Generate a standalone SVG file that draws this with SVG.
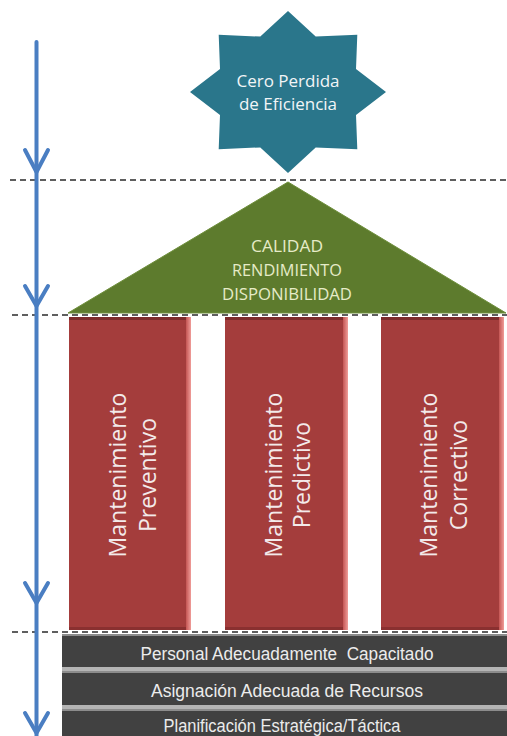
<svg xmlns="http://www.w3.org/2000/svg" width="507" height="736" viewBox="0 0 507 736">
  <style>
    .star { fill: #2a768b; }
    .startxt { font-family: "Open Sans", "DejaVu Sans", sans-serif; font-size: 17px; fill: #f2f5f7; text-anchor: middle; }
    .roof { fill: #5d7b2d; stroke: #6f8f3c; stroke-width: 1; }
    .rooftxt { font-family: "Open Sans", "DejaVu Sans", sans-serif; font-size: 16px; fill: #e6ebc8; text-anchor: middle; }
    .pillar { fill: #a43d3c; }
    .bevel-r { fill: url(#bevelR); }
    .bevel-t { fill: #7d2b2b; }
    .bevel-b { fill: #8a3030; }
    .pilltxt { font-family: "Open Sans", "DejaVu Sans", sans-serif; font-size: 23px; fill: #f3eaea; text-anchor: middle; }
    .bar { fill: #414141; }
    .barhl { fill: #8c8c8c; }
    .barsep { fill: #b4b4b4; }
    .bartxt { font-family: "Liberation Sans", Arial, sans-serif; font-size: 17.5px; fill: #ececec; text-anchor: middle; white-space: pre; }
    .dash { stroke: #2b2b2b; stroke-width: 1.4; stroke-dasharray: 6 4; fill: none; }
    .flow { stroke: #4a7ec2; stroke-width: 4; fill: none; stroke-linecap: round; stroke-linejoin: round; }
  </style>
  <defs>
    <linearGradient id="bevelR" x1="0" y1="0" x2="1" y2="0">
      <stop offset="0" stop-color="#c45553"/>
      <stop offset="1" stop-color="#f09d99"/>
    </linearGradient>
  </defs>

  <rect x="0" y="0" width="507" height="736" fill="#ffffff"/>

  <g id="star-cero-perdida">
    <polygon class="star" points="288,11 315.7,36.6 357.3,34.7 356,69 386,92 356,115 357.3,149.3 315.7,147.4 288,173 260.3,147.4 218.7,149.3 220,115 190,92 220,69 218.7,34.7 260.3,36.6"/>
    <text class="startxt" x="288" y="87">Cero Perdida</text>
    <text class="startxt" x="288" y="110">de Eficiencia</text>
  </g>

  <g id="roof">
    <polygon class="roof" points="288,182 506,313 68,313"/>
    <text class="rooftxt" x="287" y="252" textLength="72" lengthAdjust="spacingAndGlyphs">CALIDAD</text>
    <text class="rooftxt" x="287" y="276" textLength="110" lengthAdjust="spacingAndGlyphs">RENDIMIENTO</text>
    <text class="rooftxt" x="287" y="300" textLength="130" lengthAdjust="spacingAndGlyphs">DISPONIBILIDAD</text>
  </g>

  <g id="pillar-preventivo">
    <rect class="pillar" x="69" y="317" width="122" height="313"/>
    <rect class="bevel-t" x="69" y="317" width="122" height="3"/>
    <rect class="bevel-b" x="69" y="627" width="122" height="3"/>
    <rect class="bevel-r" x="186" y="317" width="5" height="313"/>
    <g transform="translate(131,475) rotate(-90)">
      <text class="pilltxt" x="0" y="-5">Mantenimiento</text>
      <text class="pilltxt" x="0" y="25">Preventivo</text>
    </g>
  </g>

  <g id="pillar-predictivo">
    <rect class="pillar" x="225" y="317" width="123" height="313"/>
    <rect class="bevel-t" x="225" y="317" width="123" height="3"/>
    <rect class="bevel-b" x="225" y="627" width="123" height="3"/>
    <rect class="bevel-r" x="343" y="317" width="5" height="313"/>
    <g transform="translate(287,475) rotate(-90)">
      <text class="pilltxt" x="0" y="-5">Mantenimiento</text>
      <text class="pilltxt" x="0" y="23">Predictivo</text>
    </g>
  </g>

  <g id="pillar-correctivo">
    <rect class="pillar" x="381" y="317" width="123" height="313"/>
    <rect class="bevel-t" x="381" y="317" width="123" height="3"/>
    <rect class="bevel-b" x="381" y="627" width="123" height="3"/>
    <rect class="bevel-r" x="499" y="317" width="5" height="313"/>
    <g transform="translate(443,475) rotate(-90)">
      <text class="pilltxt" x="0" y="-6">Mantenimiento</text>
      <text class="pilltxt" x="0" y="24">Correctivo</text>
    </g>
  </g>

  <g id="base-personal">
    <rect class="bar" x="62" y="634" width="445" height="34"/>
    <rect class="barhl" x="62" y="634" width="445" height="2"/>
    <rect class="barsep" x="62" y="667" width="445" height="4"/>
    <text class="bartxt" x="287" y="660" textLength="293" lengthAdjust="spacingAndGlyphs">Personal Adecuadamente  Capacitado</text>
  </g>

  <g id="base-asignacion">
    <rect class="bar" x="62" y="671" width="445" height="34"/>
    <rect class="barhl" x="62" y="671" width="445" height="2"/>
    <rect class="barsep" x="62" y="705" width="445" height="4"/>
    <text class="bartxt" x="287" y="697" textLength="272" lengthAdjust="spacingAndGlyphs">Asignación Adecuada de Recursos</text>
  </g>

  <g id="base-planificacion">
    <rect class="bar" x="62" y="709" width="445" height="27"/>
    <rect class="barhl" x="62" y="709" width="445" height="2"/>
    <text class="bartxt" x="282" y="732" textLength="237" lengthAdjust="spacingAndGlyphs">Planificación Estratégica/Táctica</text>
  </g>

  <g id="connectors">
    <line class="dash" x1="10" y1="180" x2="507" y2="180"/>
    <line class="dash" x1="12" y1="315" x2="507" y2="315"/>
    <line class="dash" x1="12" y1="632" x2="507" y2="632"/>
    <line class="flow" x1="36.5" y1="42" x2="36.5" y2="736"/>
    <polyline class="flow" points="25,150 36.5,172 48,150"/>
    <polyline class="flow" points="25,286 36.5,306 48,286"/>
    <polyline class="flow" points="25,583 36.5,603 48,583"/>
    <polyline class="flow" points="25,713 36.5,733 48,713"/>
  </g>
</svg>
